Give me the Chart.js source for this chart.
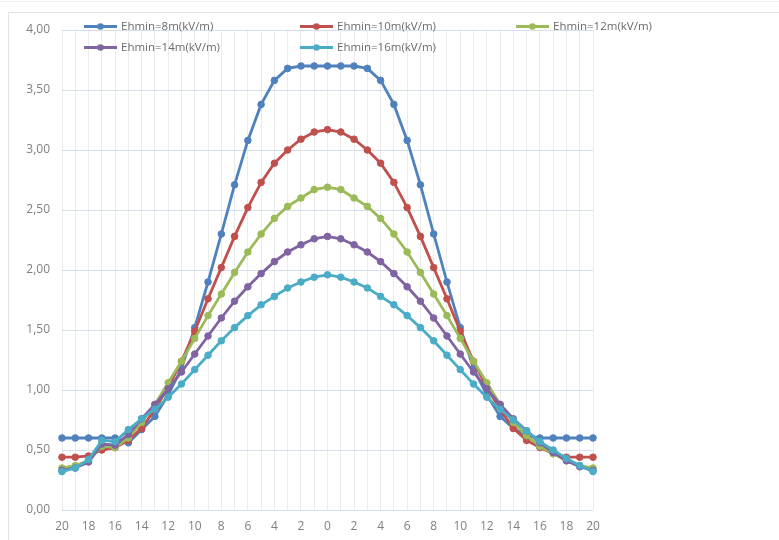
<!DOCTYPE html>
<html>
<head>
<meta charset="utf-8">
<script src="https://cdn.jsdelivr.net/npm/chart.js@4"></script>
<style>
  html, body { margin: 0; padding: 0; background: #fff; }
  #wrap { width: 779px; height: 540px; position: relative; }
</style>
</head>
<body>
<div id="wrap"><canvas id="chart"></canvas></div>
<script>
// distance labels, from 20 down to 0 and back up to 20
var distLabels = ['20','19','18','17','16','15','14','13','12','11','10','9','8','7','6','5','4','3','2','1',
                  '0','1','2','3','4','5','6','7','8','9','10','11','12','13','14','15','16','17','18','19','20'];

var seriesNames = ['Ehmin=8m(kV/m)', 'Ehmin=10m(kV/m)', 'Ehmin=12m(kV/m)', 'Ehmin=14m(kV/m)', 'Ehmin=16m(kV/m)'];
var seriesColors = ['#4F81BD', '#C0504D', '#9BBB59', '#8064A2', '#4BACC6'];

var e8 = [0.60,0.60,0.60,0.60,0.60,0.56,0.67,0.78,0.96,1.18,1.52,1.90,2.30,2.71,3.08,3.38,3.58,3.68,3.70,3.70,
          3.70,3.70,3.70,3.68,3.58,3.38,3.08,2.71,2.30,1.90,1.52,1.18,0.96,0.78,0.68,0.62,0.60,0.60,0.60,0.60,0.60];
var e10 = [0.44,0.44,0.45,0.50,0.52,0.58,0.68,0.84,1.02,1.24,1.49,1.76,2.02,2.28,2.52,2.73,2.89,3.00,3.09,3.15,
           3.17,3.15,3.09,3.00,2.89,2.73,2.52,2.28,2.02,1.76,1.49,1.24,1.02,0.84,0.68,0.58,0.52,0.47,0.44,0.44,0.44];
var e12 = [0.35,0.37,0.41,0.53,0.52,0.60,0.73,0.88,1.06,1.24,1.43,1.62,1.80,1.98,2.15,2.30,2.43,2.53,2.60,2.67,
           2.69,2.67,2.60,2.53,2.43,2.30,2.15,1.98,1.80,1.62,1.43,1.24,1.06,0.88,0.73,0.62,0.53,0.47,0.41,0.37,0.35];
var e14 = [0.33,0.35,0.40,0.55,0.54,0.63,0.76,0.88,1.01,1.15,1.30,1.45,1.60,1.74,1.86,1.97,2.07,2.15,2.21,2.26,
           2.28,2.26,2.21,2.15,2.07,1.97,1.86,1.74,1.60,1.45,1.30,1.15,1.01,0.88,0.76,0.66,0.56,0.48,0.41,0.36,0.33];
var e16 = [0.32,0.35,0.42,0.58,0.57,0.67,0.76,0.84,0.94,1.05,1.17,1.29,1.41,1.52,1.62,1.71,1.78,1.85,1.90,1.94,
           1.96,1.94,1.90,1.85,1.78,1.71,1.62,1.52,1.41,1.29,1.17,1.05,0.94,0.84,0.75,0.66,0.57,0.50,0.43,0.37,0.32];

var yMin = 0, yMax = 4, yStep = 0.5;

var allSeries = [e8, e10, e12, e14, e16];

var datasets = allSeries.map(function (vals, i) {
    return {
        label: seriesNames[i],
        data: vals,
        borderColor: seriesColors[i],
        backgroundColor: seriesColors[i],
        borderWidth: 2.8,
        pointRadius: 3.3,
        pointBorderWidth: 1,
        pointBackgroundColor: seriesColors[i],
        pointBorderColor: seriesColors[i],
        tension: 0,
        order: allSeries.length - i
    };
});

// frame lines around the chart like the spreadsheet export
var framePlugin = {
    id: 'frame',
    beforeDraw: function (chart) {
        var c = chart.ctx;
        c.save();
        c.fillStyle = '#ffffff';
        c.fillRect(0, 0, chart.width, chart.height);
        c.strokeStyle = '#f0f0f0';
        c.lineWidth = 1;
        c.beginPath();
        c.moveTo(0, 1.5); c.lineTo(chart.width, 1.5);
        c.stroke();
        c.strokeStyle = '#e2e2e2';
        c.beginPath();
        c.moveTo(8.5, chart.height); c.lineTo(8.5, 12.5); c.lineTo(chart.width, 12.5);
        c.stroke();
        c.restore();
    }
};

// legend laid out in three columns inside the plot, as in the original
var legendPlugin = {
    id: 'gridLegend',
    afterDatasetsDraw: function (chart) {
        var c = chart.ctx;
        c.save();
        c.font = '11.5px "Open Sans", sans-serif';
        c.textBaseline = 'middle';
        chart.data.datasets.forEach(function (ds, i) {
            var col = i % 3, row = Math.floor(i / 3);
            var x0 = 84 + col * 216, y0 = 26.5 + row * 21;
            c.strokeStyle = ds.borderColor;
            c.lineWidth = 2.8;
            c.beginPath();
            c.moveTo(x0, y0); c.lineTo(x0 + 33, y0);
            c.stroke();
            c.fillStyle = ds.borderColor;
            c.beginPath();
            c.arc(x0 + 16.5, y0, 3.3, 0, Math.PI * 2);
            c.fill();
            c.fillStyle = '#6a6a6a';
            c.fillText(ds.label, x0 + 37, y0);
        });
        c.restore();
    }
};

new Chart(document.getElementById('chart').getContext('2d'), {
    type: 'line',
    data: { labels: distLabels, datasets: datasets },
    plugins: [framePlugin, legendPlugin],
    options: {
        responsive: true,
        maintainAspectRatio: false,
        animation: false,
        layout: { padding: { left: 0, right: 186, top: 30, bottom: 0 } },
        plugins: {
            legend: { display: false },
            tooltip: { enabled: false }
        },
        scales: {
            x: {
                offset: false,
                grid: { color: '#ebebeb', drawTicks: false },
                border: { display: false },
                ticks: {
                    color: '#7f7f7f',
                    font: { family: 'Open Sans', size: 12 },
                    autoSkip: false,
                    maxRotation: 0,
                    padding: 9,
                    callback: function (value, index) {
                        return index % 2 === 0 ? distLabels[index] : '';
                    }
                },
                afterFit: function (axis) { axis.height = 30; }
            },
            y: {
                min: yMin,
                max: yMax,
                grid: { color: '#d5dfeb', drawTicks: false },
                border: { display: false },
                ticks: {
                    stepSize: yStep,
                    color: '#7f7f7f',
                    font: { family: 'Open Sans', size: 12 },
                    padding: 12,
                    callback: function (value) {
                        return value.toFixed(2).replace('.', ',');
                    }
                },
                afterFit: function (axis) { axis.width = 62; }
            }
        }
    }
});
</script>
</body>
</html>
